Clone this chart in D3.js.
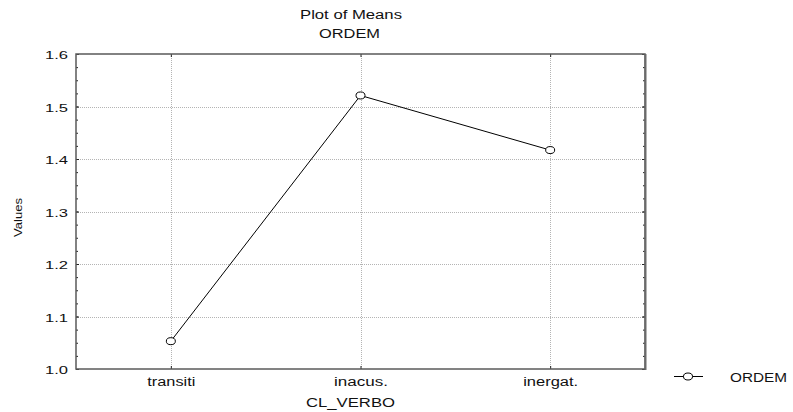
<!DOCTYPE html>
<html>
<head>
<meta charset="utf-8">
<script src="https://cdn.jsdelivr.net/npm/d3@7"></script>
<style>
  html, body { margin: 0; padding: 0; background: #fff; }
  svg { display: block; font-family: "Liberation Sans", Arial, sans-serif; }
</style>
</head>
<body>
<svg id="chart" width="793" height="412"></svg>
<script>
// Means of ORDEM by verb class
const categories = ["transiti", "inacus.", "inergat."];
const ordemMeans = [1.053, 1.521, 1.417];
const yMajorTicks = [1.0, 1.1, 1.2, 1.3, 1.4, 1.5, 1.6];
const seriesName = "ORDEM";

const svg = d3.select("#chart");
const plotLeft = 76, plotRight = 645, plotTop = 54, plotBottom = 369;

const x = d3.scalePoint().domain(categories).range([plotLeft, plotRight]).padding(0.5);
const y = d3.scaleLinear().domain([1.0, 1.6]).range([plotBottom, plotTop]);

// dotted grid
const grid = svg.append("g").attr("stroke", "#b4b4b4").attr("stroke-dasharray", "1,1").attr("stroke-width", 1);
grid.selectAll("line.h").data(yMajorTicks.slice(1, -1)).join("line")
  .attr("x1", plotLeft).attr("x2", plotRight)
  .attr("y1", d => Math.round(y(d)) + 0.5).attr("y2", d => Math.round(y(d)) + 0.5);
grid.selectAll("line.v").data(categories).join("line")
  .attr("y1", plotTop).attr("y2", plotBottom)
  .attr("x1", d => Math.round(x(d)) + 0.5).attr("x2", d => Math.round(x(d)) + 0.5);

// minor ticks every 0.025
const minorTicks = d3.range(0, 25).map(i => +(1.0 + i * 0.025).toFixed(3));

function styleAxis(g) {
  g.select(".domain").remove();
  g.selectAll(".tick line").attr("stroke", "#222");
}

svg.append("g").attr("transform", `translate(${plotLeft},0)`)
  .call(d3.axisLeft(y).tickValues(minorTicks).tickSize(-2).tickFormat(""))
  .call(styleAxis);
svg.append("g").attr("transform", `translate(${plotRight},0)`)
  .call(d3.axisRight(y).tickValues(minorTicks).tickSize(-2).tickFormat(""))
  .call(styleAxis);

const yAxis = svg.append("g").attr("transform", `translate(${plotLeft},0)`)
  .call(d3.axisLeft(y).tickValues(yMajorTicks).tickSize(-3).tickPadding(8).tickFormat(d3.format(".1f")))
  .call(styleAxis);
yAxis.selectAll("text")
  .attr("font-size", 11).attr("fill", "#111").attr("dy", "0.45em")
  .attr("font-family", "Liberation Sans, Arial, sans-serif")
  .attr("textLength", 23).attr("lengthAdjust", "spacingAndGlyphs");

svg.append("g").attr("transform", `translate(${plotRight},0)`)
  .call(d3.axisRight(y).tickValues(yMajorTicks).tickSize(-3).tickFormat(""))
  .call(styleAxis);

const labelWidths = { "transiti": 48, "inacus.": 54, "inergat.": 55 };
const xAxis = svg.append("g").attr("transform", `translate(0,${plotBottom})`)
  .call(d3.axisBottom(x).tickSize(-3).tickPadding(8))
  .call(styleAxis);
xAxis.selectAll("text")
  .attr("font-size", 12).attr("fill", "#111").attr("y", 17).attr("dy", 0)
  .attr("font-family", "Liberation Sans, Arial, sans-serif")
  .attr("textLength", d => labelWidths[d]).attr("lengthAdjust", "spacingAndGlyphs");

svg.append("g").attr("transform", `translate(0,${plotTop})`)
  .call(d3.axisTop(x).tickSize(-3).tickFormat(""))
  .call(styleAxis);

// frame
svg.append("rect")
  .attr("x", plotLeft).attr("y", plotTop).attr("width", plotRight - plotLeft).attr("height", plotBottom - plotTop)
  .attr("fill", "none").attr("stroke", "#5a5a5a").attr("stroke-width", 1.5);
svg.append("line")
  .attr("x1", plotRight + 0.5).attr("x2", plotRight + 0.5).attr("y1", plotTop).attr("y2", plotBottom + 1)
  .attr("stroke", "#6a6a6a").attr("stroke-width", 2);

// series line and markers
const pts = categories.map((c, i) => [x(c), y(ordemMeans[i])]);
svg.append("path")
  .attr("d", d3.line()(pts))
  .attr("fill", "none").attr("stroke", "#000").attr("stroke-width", 1);
svg.selectAll("ellipse.pt").data(pts).join("ellipse")
  .attr("class", "pt")
  .attr("cx", d => d[0]).attr("cy", d => d[1])
  .attr("rx", 4.5).attr("ry", 3.5)
  .attr("fill", "#fff").attr("stroke", "#000").attr("stroke-width", 1);

// titles
svg.append("text").attr("x", 351).attr("y", 19).attr("text-anchor", "middle")
  .attr("font-size", 12.5).attr("fill", "#111")
  .attr("textLength", 102).attr("lengthAdjust", "spacingAndGlyphs")
  .text("Plot of Means");
svg.append("text").attr("x", 349.5).attr("y", 38).attr("text-anchor", "middle")
  .attr("font-size", 12.5).attr("fill", "#111")
  .attr("textLength", 61).attr("lengthAdjust", "spacingAndGlyphs")
  .text(seriesName);
svg.append("text").attr("x", 350.5).attr("y", 407).attr("text-anchor", "middle")
  .attr("font-size", 12.5).attr("fill", "#111")
  .attr("textLength", 89).attr("lengthAdjust", "spacingAndGlyphs")
  .text("CL_VERBO");
svg.append("text").attr("transform", "translate(21.5,217.5) rotate(-90)")
  .attr("text-anchor", "middle").attr("font-size", 11).attr("fill", "#111")
  .attr("textLength", 39).attr("lengthAdjust", "spacingAndGlyphs")
  .text("Values");

// legend
const legend = svg.append("g");
legend.append("line").attr("x1", 674).attr("x2", 703).attr("y1", 376.5).attr("y2", 376.5)
  .attr("stroke", "#000").attr("stroke-width", 1);
legend.append("ellipse").attr("cx", 688).attr("cy", 376.5).attr("rx", 4.5).attr("ry", 3.5)
  .attr("fill", "#fff").attr("stroke", "#000").attr("stroke-width", 1);
legend.append("text").attr("x", 730).attr("y", 381.5).attr("font-size", 12.5).attr("fill", "#111")
  .attr("textLength", 57).attr("lengthAdjust", "spacingAndGlyphs")
  .text(seriesName);
</script>
</body>
</html>
